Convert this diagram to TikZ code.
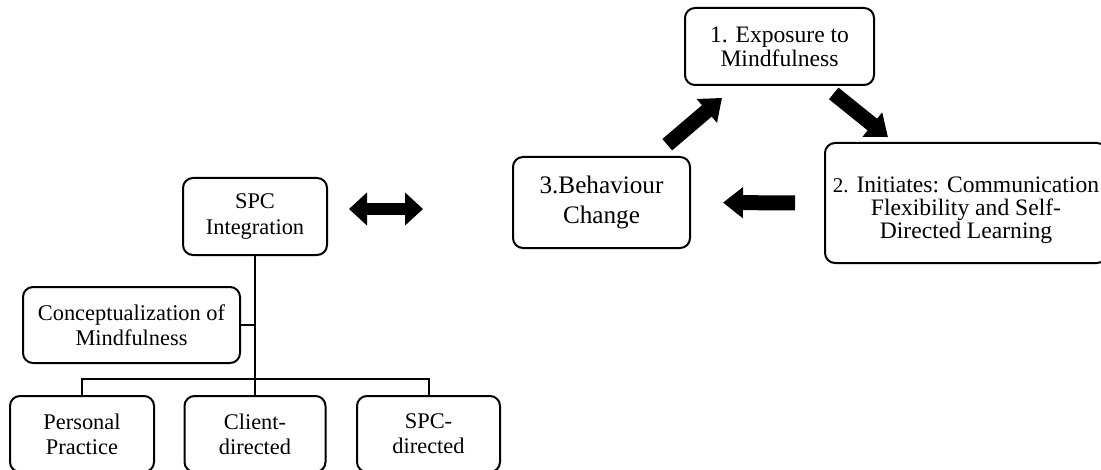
\documentclass[tikz,border=0pt]{standalone}
\usepackage{fontspec}
\setmainfont{Liberation Serif}
\usetikzlibrary{arrows.meta}

\begin{document}
\begin{tikzpicture}[x=0.5pt,y=-0.5pt,
   box/.style={draw, line width=1pt, rounded corners=5pt, align=center, inner sep=2pt, font=\fontsize{11.2}{12.6}\selectfont},
   bigarrow/.style={line width=7.5pt, -{Triangle[length=10pt,width=15pt]}},
   dblarrow/.style={line width=6pt, {Triangle[length=9pt,width=16pt]}-{Triangle[length=9pt,width=16pt]}},
   branch/.style={line width=1pt}]
   %\draw[step=50,gray,very thin] (0,0) grid (1100,470);
   \useasboundingbox (0,0) rectangle (1101,470);

   % the cycle
   \node[box, font=\fontsize{11.8}{12}\selectfont, minimum width=94.5pt, minimum height=38.5pt] (expo) at (779.5,46.5) {1. Exposure to\\Mindfulness};
   \node[box, minimum width=141pt, minimum height=60pt,
         label={[align=center, font=\fontsize{11.8}{11.4}\selectfont, yshift=-3.5pt]center:{{\fontsize{10.5}{11}\selectfont 2.} Initiates: Communication\\Flexibility and Self-\\Directed Learning}}] (init) at (966,203) {};
   \node[box, font=\fontsize{12.6}{15}\selectfont, minimum width=88.5pt, minimum height=45.5pt] (beh) at (601.5,202.5) {3.Behaviour\\Change};

   \draw[bigarrow, shorten <=8.7pt, shorten >=9.2pt] ([xshift=26.25pt]beh.north) -- ([xshift=-21.75pt]expo.south);
   \draw[bigarrow, shorten <=5.9pt, shorten >=3.9pt] ([xshift=22.5pt]expo.south) -- ([xshift=35pt]init.north west);
   \draw[bigarrow, shorten <=14.5pt, shorten >=16pt] (init.west) -- (beh.east);

   % the tree
   \node[box, minimum width=72pt, minimum height=38.5pt] (spc) at (255,216.5) {SPC\\Integration};
   \node[box, minimum width=108.5pt, minimum height=38pt] (concept) at (131.5,325) {Conceptualization of\\Mindfulness};
   \node[box, minimum width=72pt, minimum height=38pt] (pers) at (82,434) {Personal\\Practice};
   \node[box, minimum width=70.5pt, minimum height=38pt] (client) at (255,434) {Client-\\directed};
   \node[box, minimum width=71.5pt, minimum height=38pt] (spcd) at (428.5,434) {SPC-\\directed};

   \draw[branch] (spc.south) -- (client.north);
   \draw[branch] (concept.east) -- (concept.east -| spc.south);
   \draw[branch] (pers.north) -- ++(0,-16) -| (spcd.north);

   \draw[dblarrow, shorten <=10.5pt, shorten >=44.5pt] ([yshift=3.75pt]spc.east) -- ([yshift=-3.25pt]beh.west);

\end{tikzpicture}
\end{document}
